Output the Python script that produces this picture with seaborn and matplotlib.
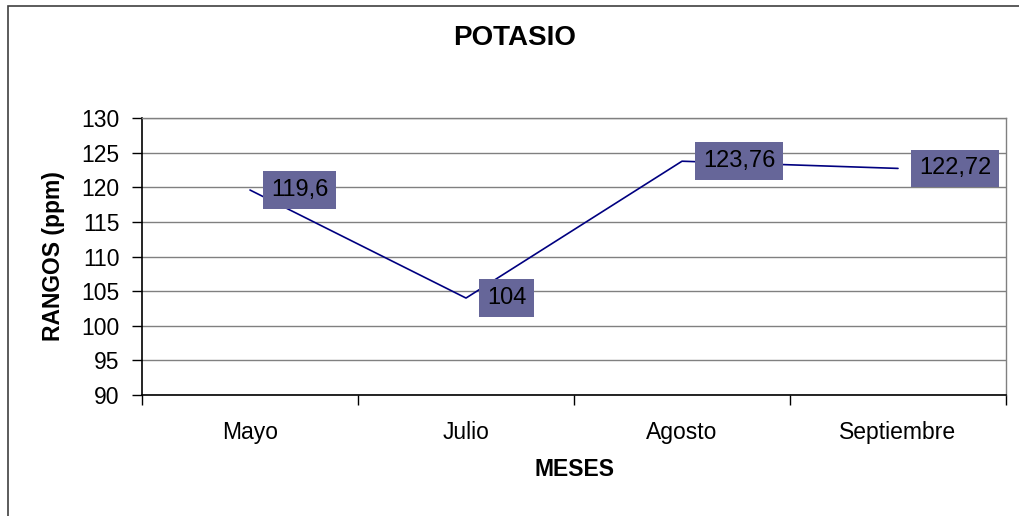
import matplotlib
matplotlib.use("Agg")
import matplotlib.pyplot as plt
import seaborn as sns
import pandas as pd
from matplotlib.patches import Rectangle

sns.set_theme(style="white")
plt.rcParams['font.family'] = ['Liberation Sans', 'DejaVu Sans']
plt.rcParams['text.color'] = 'black'
plt.rcParams['axes.labelcolor'] = 'black'

meses = ["Mayo", "Julio", "Agosto", "Septiembre"]
valores = [119.6, 104, 123.76, 122.72]
etiquetas = ["119,6", "104", "123,76", "122,72"]
yticks = [90, 95, 100, 105, 110, 115, 120, 125, 130]

df = pd.DataFrame({"pos": range(len(meses)), "mes": meses, "valor": valores})

fig = plt.figure(figsize=(10.2, 5.16), dpi=100)
ax = fig.add_axes([142/1020, 1-395/516, (1006-142)/1020, (395-118)/516])

sns.lineplot(data=df, x="pos", y="valor", ax=ax, color="#000080", linewidth=1.2)

ax.set_xlim(-0.5, len(meses) - 0.5)
ax.set_ylim(90, 130)
ax.set_yticks(yticks)
ax.set_yticklabels([str(v) for v in yticks], fontsize=16.5, color="black")
ax.yaxis.grid(True, color="#808080", linewidth=1)
ax.xaxis.grid(False)
ax.set_xticks(range(len(meses)))
ax.set_xticklabels(meses, fontsize=16.5, color="black")
ax.set_xticks([i - 0.5 for i in range(len(meses) + 1)], minor=True)
ax.tick_params(axis="x", which="major", length=0, pad=19)
ax.tick_params(axis="x", which="minor", length=7, color="black", width=1, direction="out", bottom=True)
ax.tick_params(axis="y", length=7, color="black", width=1, direction="out", left=True, pad=9)

for side in ["left", "bottom"]:
    ax.spines[side].set_color("black")
    ax.spines[side].set_linewidth(1.2)
ax.spines["top"].set_color("#808080")
ax.spines["right"].set_color("#808080")
ax.spines["top"].set_linewidth(1)
ax.spines["right"].set_linewidth(1)

ax.set_xlabel("MESES", fontsize=16.5, fontweight="bold", labelpad=10, color="black")
ax.set_ylabel("RANGOS (ppm)", fontsize=16.5, fontweight="bold", labelpad=12, color="black")

for x, y, t in zip(df["pos"], valores, etiquetas):
    ax.annotate(t, xy=(x, y), xytext=(21, 0), textcoords="offset pixels",
                ha="left", va="center", fontsize=17, color="black",
                bbox=dict(boxstyle="square,pad=0.33", facecolor="#666699", edgecolor="none"))

fig.text(515/1020, 1-38/516, "POTASIO", ha="center", va="center", fontsize=20, fontweight="bold", color="black")

fig.patches.append(Rectangle((8/1020, -0.1), 1.2, 1 - 6/516 + 0.1, transform=fig.transFigure,
                             fill=False, edgecolor="#404040", linewidth=1.2))

fig.savefig("out.png", dpi=100, facecolor="white")
